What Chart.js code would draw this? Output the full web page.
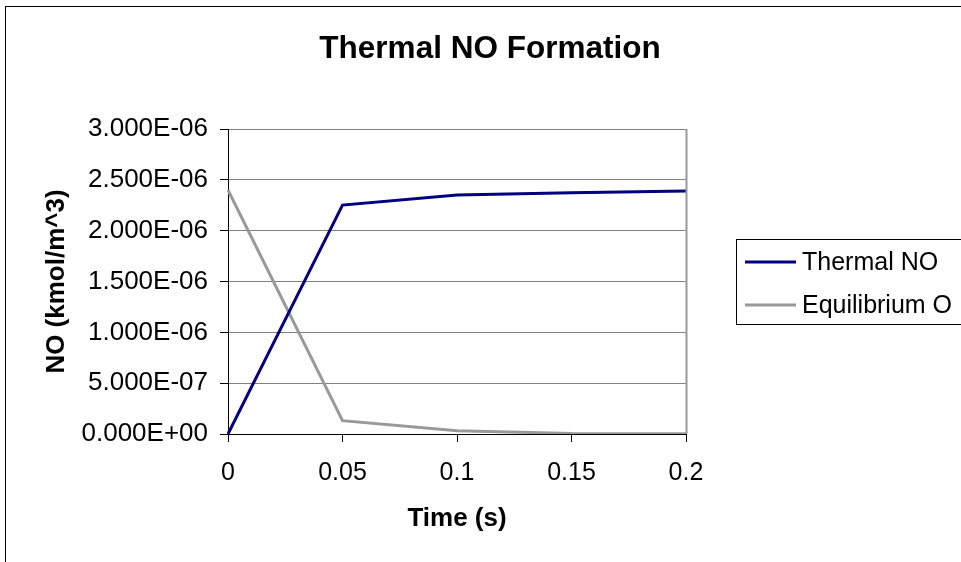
<!DOCTYPE html>
<html>
<head>
<meta charset="utf-8">
<script src="https://cdn.jsdelivr.net/npm/chart.js@4/dist/chart.umd.min.js"></script>
<style>
html,body{margin:0;padding:0;background:#fff;}
#wrap{width:961px;height:562px;position:relative;}
</style>
</head>
<body>
<div id="wrap"><canvas id="c" width="961" height="562"></canvas></div>
<script>
const chartTitle = 'Thermal NO Formation';
const xTitle = 'Time (s)';
const yTitle = 'NO (kmol/m^3)';
const timeLabels = ['0', '0.05', '0.1', '0.15', '0.2'];
const thermalNO = [0, 2.252e-6, 2.351e-6, 2.372e-6, 2.390e-6];
const equilibriumO = [2.400e-6, 1.31e-7, 3.3e-8, 4e-9, 2e-9];
const seriesNames = ['Thermal NO', 'Equilibrium O'];
const seriesColors = ['#000080', '#999999'];
const yMin = 0, yMax = 3e-6, yStep = 5e-7;

const FONT = "'Liberation Sans', Arial, sans-serif";

function sci(v) {
  const s = Number(v).toExponential(3).toUpperCase();
  const parts = s.split('E');
  let exp = parseInt(parts[1], 10);
  const sign = exp < 0 ? '-' : '+';
  exp = Math.abs(exp);
  return parts[0] + 'E' + sign + (exp < 10 ? '0' + exp : '' + exp);
}

const decor = {
  id: 'decor',
  beforeDraw(chart) {
    const ctx = chart.ctx;
    ctx.save();
    ctx.fillStyle = '#fff';
    ctx.fillRect(0, 0, chart.width, chart.height);
    ctx.restore();
  },
  afterDraw(chart) {
    const ctx = chart.ctx;
    const a = chart.chartArea;
    ctx.save();
    // outer chart border
    ctx.strokeStyle = '#000';
    ctx.lineWidth = 1;
    ctx.strokeRect(5.5, 6.5, 1200, 800);
    // right plot border
    ctx.strokeStyle = '#9a9a9a';
    ctx.lineWidth = 2;
    ctx.beginPath();
    ctx.moveTo(a.right + 0.5, a.top);
    ctx.lineTo(a.right + 0.5, a.bottom);
    ctx.stroke();
    // title
    ctx.fillStyle = '#000';
    ctx.font = 'bold 31.5px ' + FONT;
    ctx.textAlign = 'center';
    ctx.textBaseline = 'middle';
    ctx.fillText(chartTitle, 490, 49);
    // legend
    ctx.strokeStyle = '#000';
    ctx.lineWidth = 1;
    ctx.strokeRect(736.5, 239.5, 400, 85);
    ctx.font = '25px ' + FONT;
    ctx.textAlign = 'left';
    const ys = [262, 305];
    chart.data.datasets.forEach((ds, i) => {
      ctx.strokeStyle = ds.borderColor;
      ctx.lineWidth = 3;
      ctx.beginPath();
      ctx.moveTo(745, ys[i]);
      ctx.lineTo(796, ys[i]);
      ctx.stroke();
      ctx.fillStyle = '#000';
      ctx.fillText(ds.label, 802, ys[i] + 1);
    });
    ctx.restore();
  }
};

new Chart(document.getElementById('c'), {
  type: 'line',
  data: {
    labels: timeLabels,
    datasets: [
      { label: seriesNames[0], data: thermalNO, borderColor: seriesColors[0], backgroundColor: seriesColors[0], borderWidth: 3, pointRadius: 0, tension: 0, fill: false },
      { label: seriesNames[1], data: equilibriumO, borderColor: seriesColors[1], backgroundColor: seriesColors[1], borderWidth: 3, pointRadius: 0, tension: 0, fill: false }
    ]
  },
  options: {
    responsive: false,
    animation: false,
    devicePixelRatio: 1,
    layout: { padding: { top: 129, right: 275, bottom: 0, left: 0 } },
    plugins: {
      legend: { display: false },
      title: { display: false },
      tooltip: { enabled: false }
    },
    scales: {
      x: {
        type: 'category',
        offset: false,
        afterFit(s) { s.height = 128; },
        grid: { drawOnChartArea: false, drawTicks: true, tickLength: 8, tickColor: '#000', color: '#000' },
        border: { color: '#000', width: 1 },
        ticks: { color: '#000', font: { family: FONT, size: 25 }, padding: 16, maxRotation: 0, autoSkip: false },
        title: { display: true, text: xTitle, color: '#000', font: { family: FONT, size: 26, weight: 'bold' }, padding: { top: 0, bottom: 28 } }
      },
      y: {
        min: yMin,
        max: yMax,
        afterFit(s) { s.width = 228; },
        grid: { color: '#808080', lineWidth: 1, drawTicks: true, tickLength: 8, tickColor: '#000' },
        border: { color: '#000', width: 1 },
        ticks: { stepSize: yStep, color: '#000', font: { family: FONT, size: 26 }, padding: 12, callback: (v) => sci(v) },
        title: { display: true, text: yTitle, color: '#000', font: { family: FONT, size: 26, weight: 'bold' }, padding: { top: 41, bottom: 0 } }
      }
    }
  },
  plugins: [decor]
});
</script>
</body>
</html>
